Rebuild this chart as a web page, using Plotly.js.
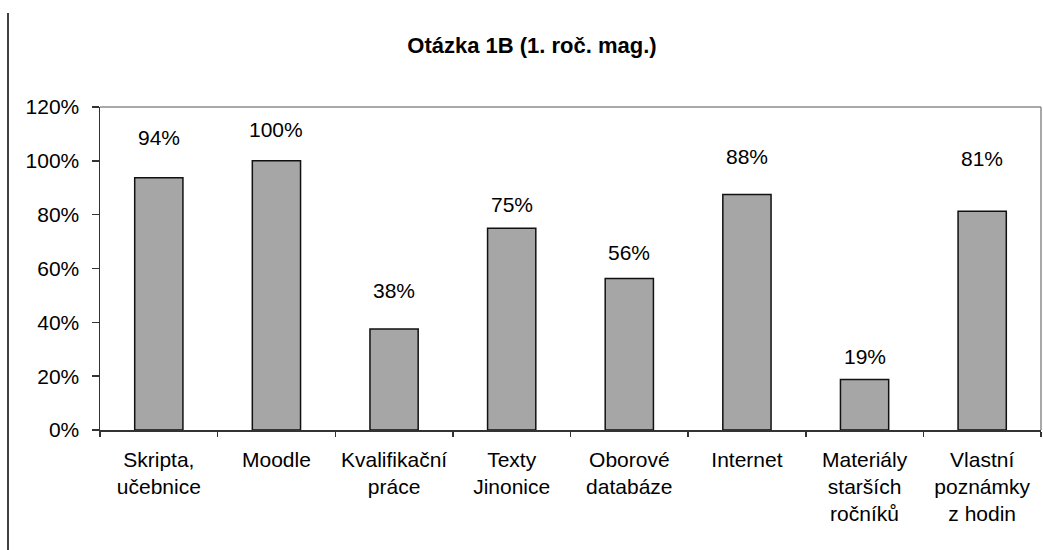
<!DOCTYPE html>
<html>
<head>
<meta charset="utf-8">
<script src="https://cdn.plot.ly/plotly-3.0.1.min.js"></script>
<style>html,body{margin:0;padding:0;background:#fff;}#chart{width:1043px;height:550px;}</style>
</head>
<body>
<div id="chart"></div>
<script>
const categories = ["Skripta,<br>učebnice", "Moodle", "Kvalifikační<br>práce", "Texty<br>Jinonice", "Oborové<br>databáze", "Internet", "Materiály<br>starších<br>ročníků", "Vlastní<br>poznámky<br>z hodin"];
const values = [0.9375, 1.0, 0.375, 0.75, 0.5625, 0.875, 0.1875, 0.8125];
const yTickVals = [0, 0.2, 0.4, 0.6, 0.8, 1.0, 1.2];
const yTickText = ["0%", "20%", "40%", "60%", "80%", "100%", "120%"];
const labelShift = [40, 31, 39, 24, 26, 38, 23, 53];

const W = 1043, H = 550;
const M = {l: 100, r: 2, t: 107, b: 120};
const font = "Liberation Sans, Arial, sans-serif";

const trace = {
  type: "bar",
  x: categories,
  y: values,
  marker: {color: "#a6a6a6", line: {color: "#111", width: 1.5}},
  hoverinfo: "skip"
};

const annotations = values.map((v, i) => ({
  x: categories[i], y: v, xref: "x", yref: "y",
  text: Math.round(v * 100) + "%",
  showarrow: false, yanchor: "middle", yshift: labelShift[i],
  font: {family: font, size: 21, color: "#000"}
}));

const plotW = W - M.l - M.r;
const plotH = H - M.t - M.b;
const leftLineX = (8 - M.l) / plotW;

const layout = {
  width: W, height: H,
  margin: M,
  paper_bgcolor: "#fff", plot_bgcolor: "#fff",
  showlegend: false,
  bargap: 0.59,
  font: {family: font, size: 21, color: "#000"},
  title: {
    text: "<b>Otázka 1B (1. roč. mag.)</b>",
    font: {family: font, size: 22, color: "#000"},
    xref: "container", yref: "container",
    x: 532 / W, y: 1 - 45 / H, xanchor: "center", yanchor: "middle"
  },
  xaxis: {
    type: "category",
    tickson: "boundaries",
    ticks: "outside", ticklen: 5, tickcolor: "#333", tickwidth: 1.5,
    showline: true, linecolor: "#333", linewidth: 1.5,
    showgrid: false, zeroline: false,
    tickfont: {family: font, size: 21, color: "#000"},
    ticklabelstandoff: 10,
    fixedrange: true
  },
  yaxis: {
    range: [0, 1.2],
    tickvals: yTickVals, ticktext: yTickText,
    ticks: "outside", ticklen: 7, tickcolor: "#333", tickwidth: 1.5,
    showline: true, linecolor: "#333", linewidth: 1.5,
    showgrid: false, zeroline: false,
    tickfont: {family: font, size: 21, color: "#000"},
    ticklabelstandoff: 8,
    fixedrange: true
  },
  annotations: annotations,
  shapes: [
    {type: "line", xref: "paper", yref: "paper", x0: 0, x1: 1, y0: 1, y1: 1, line: {color: "#8c8c8c", width: 1.5}},
    {type: "line", xref: "paper", yref: "paper", x0: 1, x1: 1, y0: 0, y1: 1, line: {color: "#8c8c8c", width: 1.5}},
    {type: "line", xref: "paper", yref: "paper", x0: leftLineX, x1: leftLineX, y0: -M.b / plotH, y1: 1 + (M.t - 13) / plotH, line: {color: "#000", width: 1.5}}
  ]
};

Plotly.newPlot("chart", [trace], layout, {displayModeBar: false, staticPlot: true});
</script>
</body>
</html>
